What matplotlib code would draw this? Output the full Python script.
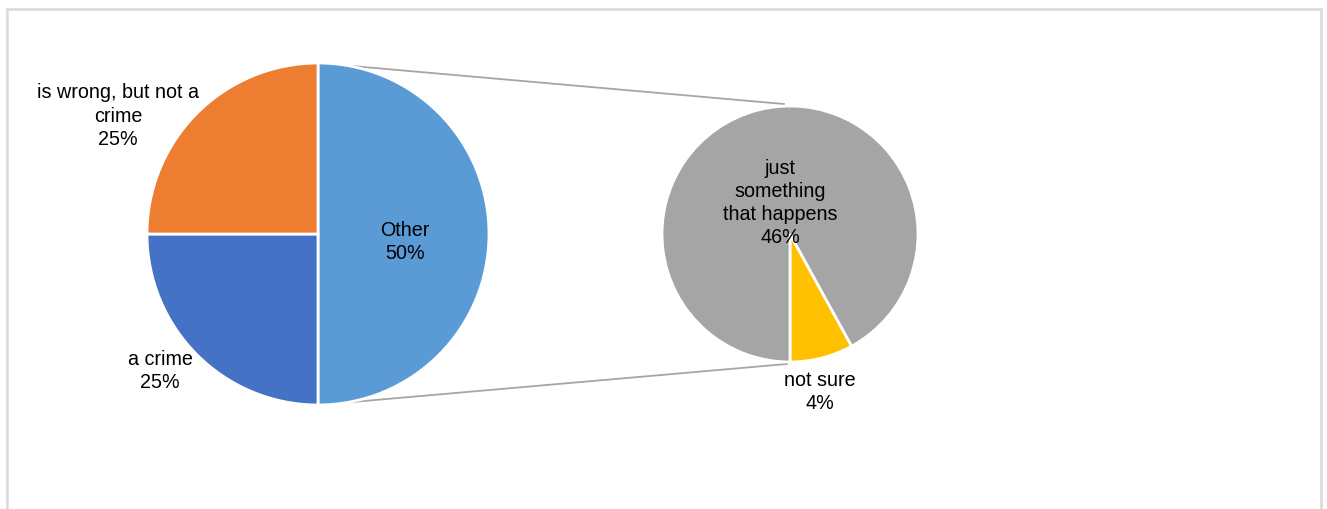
import matplotlib.pyplot as plt
from matplotlib.patches import Rectangle

plt.rcParams['font.family'] = ['Liberation Sans', 'DejaVu Sans']

W, H = 1327, 509

# main pie data
main_labels = ['Other', 'a crime', 'is wrong, but not a\ncrime']
main_values = [50, 25, 25]
main_colors = ['#5B9BD5', '#4472C4', '#ED7D31']

# secondary pie (breakdown of "Other")
sub_labels = ['not sure', 'just\nsomething\nthat happens']
sub_values = [4, 46]
sub_colors = ['#FFC000', '#A5A5A5']

fig = plt.figure(figsize=(W / 100, H / 100), dpi=100)
ax = fig.add_axes([0, 0, 1, 1])

def py(y):
    # pixel row -> data y
    return H - y

c1 = (318, py(234)); r1 = 171
c2 = (790, py(234)); r2 = 128

ax.pie(main_values, colors=main_colors, startangle=90, counterclock=False,
       center=c1, radius=r1, wedgeprops=dict(edgecolor='white', linewidth=2))
ax.pie(sub_values, colors=sub_colors, startangle=-90, counterclock=True,
       center=c2, radius=r2, wedgeprops=dict(edgecolor='white', linewidth=2))

# connector lines
ax.plot([318, 784], [py(63), py(104)], color='#A5A5A5', lw=1.3, zorder=0)
ax.plot([318, 787], [py(405), py(364)], color='#A5A5A5', lw=1.3, zorder=0)

# chart frame
ax.add_patch(Rectangle((7, py(560)), 1314, 551, fill=False,
                       edgecolor='#D9D9D9', lw=1.8))

fs = 14.2
tk = dict(ha='center', va='center', fontsize=fs, color='black', linespacing=1.28)
ax.text(118, py(116), f'{main_labels[2]}\n{main_values[2]}%', **tk)
ax.text(160, py(371), f'{main_labels[1]}\n{main_values[1]}%', **tk)
ax.text(405, py(242), f'{main_labels[0]}\n{main_values[0]}%', **tk)
ax.text(780, py(203), f'{sub_labels[1]}\n{sub_values[1]}%', **tk)
ax.text(820, py(392), f'{sub_labels[0]}\n{sub_values[0]}%', **tk)

ax.set_xlim(0, W)
ax.set_ylim(0, H)
ax.set_aspect('equal')
ax.axis('off')

fig.savefig('out.png', dpi=100, facecolor='white')
